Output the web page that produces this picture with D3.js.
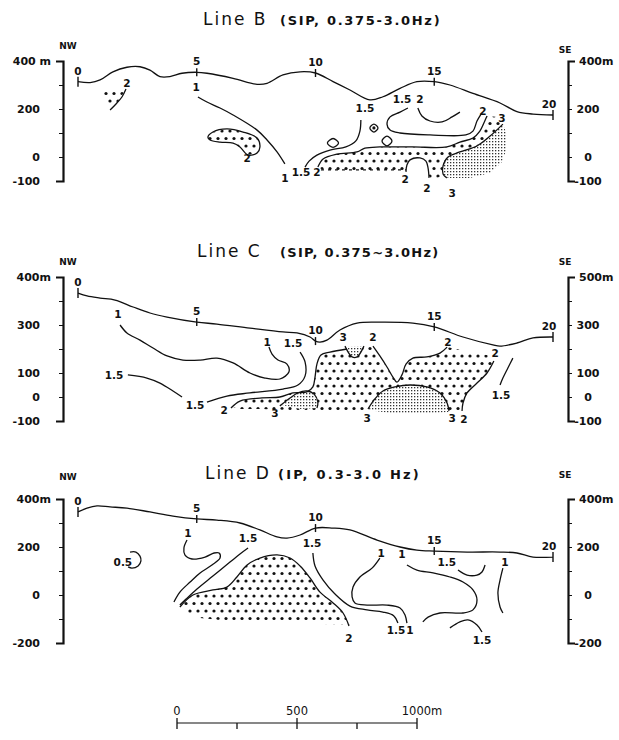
<!DOCTYPE html>
<meta charset="utf-8">
<style>
body { margin: 0; background: #fff; }
svg text { font-family: "DejaVu Sans", sans-serif; fill: #111; }
</style>
<svg width="619" height="740"></svg>
<script src="https://cdn.jsdelivr.net/npm/d3@7/dist/d3.min.js"></script>
<script>
// distance along line in metres (station every 100 m), elevation in metres

var stations = [0, 500, 1000, 1500, 2000];
var stationNames = ["0", "5", "10", "15", "20"];

// ---- Line B ----
var topoB = [[0,314],[51,310],[93,321],[147,355],[206,374],[261,376],[303,362],[345,335],[387,335],[438,349],[500,353],[543,349],[653,328],[754,303],[796,307],[863,342],[935,355],[1000,350],[1074,314],[1145,279],[1229,238],[1284,251],[1356,286],[1427,314],[1500,314],[1566,300],[1663,265],[1777,225],[1848,189],[1916,179],[2000,175]];
var linesB = [
  [[505,250],[543,229],[598,204],[653,175],[754,112],[796,71],[838,21],[871,-29]],
  [[202,283],[185,250],[160,221],[135,196]],
  [[956,-42],[973,-17],[1006,8],[1061,29],[1128,42],[1170,67],[1187,108],[1191,154]],
  [[1389,204],[1356,187],[1314,167],[1301,137],[1314,112],[1356,100],[1482,92],[1633,92],[1663,108],[1680,150],[1697,179]],
  [[1431,204],[1448,171],[1482,150],[1533,146],[1575,167],[1608,187]],
  [[1010,-42],[1032,-8],[1090,12],[1175,21],[1208,37],[1271,42],[1410,42],[1553,42],[1608,62],[1663,79],[1692,108],[1709,142],[1722,171]],
  [[1381,-62],[1385,-33],[1398,-12],[1440,-4],[1465,-17],[1474,-46],[1478,-87]],
  [[1789,137],[1735,87],[1680,46],[1608,21],[1558,0],[1537,-37],[1537,-71],[1553,-87]]
];
var dashedB = [[[1023,-54],[1381,-54]]];
var closedB = [
  [[547,83],[568,104],[627,117],[695,104],[754,79],[766,42],[754,17],[716,8],[682,42],[653,58],[598,62],[556,71]],
  [[1050,58],[1074,77],[1097,58],[1074,40]],
  [[1229,121],[1246,137],[1263,121],[1246,104]],
  [[1280,67],[1301,87],[1322,67],[1301,46]]
];
var pointsB = [[1246,121]];
var dotAreasB = [
  [[109,271],[168,287],[194,271],[168,229],[135,212],[109,237]],
  [[547,83],[568,104],[627,117],[695,104],[754,79],[766,42],[754,17],[716,8],[682,42],[653,58],[598,62],[556,71]],
  [[1010,-42],[1032,-8],[1090,12],[1175,21],[1208,37],[1271,42],[1410,42],[1553,42],[1608,62],[1663,79],[1692,108],[1709,142],[1726,171],[1768,167],[1789,137],[1735,87],[1680,46],[1608,21],[1558,0],[1537,-37],[1533,-79],[1490,-96],[1478,-79],[1474,-46],[1465,-17],[1440,-4],[1398,-12],[1385,-33],[1381,-54],[1032,-54]]
];
var stippleB = [
  [[1789,137],[1735,87],[1680,46],[1608,21],[1558,0],[1537,-37],[1537,-71],[1558,-87],[1650,-87],[1735,-67],[1785,-21],[1806,37],[1802,104]]
];
var labelsB = [["1",497,292],["1",871,-87],["1.5",939,-62],["2",1006,-62],["2",206,308],["2",712,-4],["1.5",1208,204],["1.5",1364,242],["2",1440,242],["2",1705,192],["3",1785,162],["2",1377,-92],["2",1469,-129],["3",1575,-150]];

// ---- Line C ----
var topoC = [[0,433],[38,421],[93,412],[156,404],[232,375],[303,350],[375,333],[500,312],[585,304],[724,287],[863,271],[922,267],[977,250],[1000,233],[1019,229],[1048,237],[1103,279],[1175,308],[1271,312],[1410,308],[1500,292],[1621,250],[1747,217],[1777,212],[1848,225],[1916,246],[2000,250]];
var linesC = [
  [[177,300],[206,267],[261,237],[316,204],[375,171],[442,154],[514,154],[585,162],[653,142],[724,100],[787,79],[850,75],[888,104],[880,137],[842,154],[817,179],[804,208]],
  [[935,187],[956,146],[956,87],[926,50],[863,33],[724,17],[627,4],[543,-21]],
  [[210,92],[290,79],[345,58],[400,25],[438,0]],
  [[644,-46],[682,-17],[775,-4],[850,0],[905,17],[964,21],[989,42],[998,83],[1006,137],[1023,175],[1061,187],[1133,200]],
  [[1242,212],[1271,171],[1301,125],[1326,83],[1343,62],[1364,92],[1381,137],[1410,162],[1469,167],[1524,183],[1554,208]],
  [[1751,150],[1722,100],[1680,58],[1638,17],[1621,-25],[1617,-58]],
  [[850,-37],[893,-4],[926,17],[964,25],[994,12],[1010,-21],[1006,-46]],
  [[1221,-50],[1250,-8],[1284,25],[1335,42],[1398,50],[1469,42],[1524,17],[1554,-25],[1562,-58]],
  [[1124,212],[1154,167],[1175,167],[1204,212]],
  [[1831,162],[1810,121],[1789,79],[1777,50]]
];
var dashedC = [];
var closedC = [];
var pointsC = [];
var dotAreasC = [
  [[653,-42],[695,-12],[779,-4],[850,0],[905,17],[964,21],[989,42],[998,83],[1006,137],[1023,175],[1061,187],[1133,200],[1242,212],[1271,171],[1301,125],[1326,83],[1343,62],[1364,92],[1381,137],[1410,162],[1469,167],[1524,183],[1554,208],[1650,187],[1743,171],[1751,150],[1722,100],[1680,58],[1638,17],[1621,-25],[1617,-62],[1524,-71],[1356,-71],[1187,-67],[1019,-67],[893,-54],[766,-50],[682,-50]]
];
var stippleC = [
  [[859,-33],[893,-4],[926,17],[964,25],[994,12],[1010,-21],[1006,-46],[935,-50]],
  [[1221,-54],[1250,-8],[1284,25],[1335,42],[1398,50],[1469,42],[1524,17],[1554,-25],[1562,-62],[1440,-71],[1314,-67]],
  [[1128,208],[1204,212],[1175,167],[1154,167]]
];
var labelsC = [["1",168,346],["1",796,229],["1.5",905,225],["1.5",152,92],["1.5",493,-33],["2",615,-54],["3",829,-67],["3",1116,250],["2",1242,250],["2",1558,229],["2",1756,183],["1.5",1781,8],["3",1217,-87],["3",1575,-87],["2",1625,-92]];

// ---- Line D ----
var topoD = [[0,346],[38,362],[80,371],[135,367],[206,362],[303,346],[400,329],[500,317],[585,312],[682,300],[766,271],[838,242],[880,237],[935,250],[1000,279],[1074,279],[1145,271],[1259,229],[1356,200],[1427,187],[1500,183],[1638,179],[1777,179],[1848,175],[1916,158],[2000,158]];
var linesD = [
  [[219,179],[244,179],[261,162],[265,142],[253,121],[227,112],[211,117]],
  [[459,229],[446,196],[450,167],[480,150],[535,158],[573,175],[594,175],[598,154],[564,125],[514,92],[472,54],[429,12],[404,-29]],
  [[716,196],[682,171],[640,137],[568,79],[501,25],[455,-17],[429,-42]],
  [[429,-50],[484,0],[568,21],[627,33],[669,75],[712,125],[766,154],[838,167],[893,154],[935,121],[977,71],[1019,12],[1074,-33],[1116,-75],[1141,-129]],
  [[989,175],[998,121],[1032,62],[1082,4],[1145,-46],[1217,-62],[1284,-71],[1330,-87],[1347,-117]],
  [[1271,154],[1238,112],[1187,75],[1158,33],[1154,-8],[1166,-33],[1217,-42],[1301,-42],[1356,-54],[1377,-83],[1385,-117]],
  [[1385,125],[1427,104],[1495,92],[1566,75],[1621,54],[1663,21],[1680,-21],[1663,-62],[1621,-75],[1524,-75],[1474,-92],[1452,-112]],
  [[1600,104],[1638,83],[1680,83],[1701,96],[1714,125]],
  [[1789,112],[1777,62],[1768,8],[1777,-50],[1789,-75]],
  [[1566,-137],[1608,-112],[1642,-104],[1680,-125],[1701,-154]]
];
var dashedD = [];
var closedD = [];
var pointsD = [];
var dotAreasD = [
  [[438,-42],[484,0],[568,21],[627,33],[669,75],[712,125],[766,154],[838,167],[893,154],[935,121],[977,71],[1019,12],[1074,-33],[1116,-75],[1145,-125],[1019,-121],[850,-117],[682,-112],[514,-96],[455,-71]]
];
var stippleD = [];
var labelsD = [["0.5",189,137],["1",463,258],["1.5",716,237],["1.5",985,217],["2",1141,-179],["1",1276,175],["1",1364,171],["1.5",1553,137],["1",1798,137],["1.5",1339,-146],["1",1398,-146],["1.5",1701,-187]];

// axis ticks and labels
var ticksB = [-100,0,100,200,300,400];
var leftLabelsB = [[400,"400 m"],[200,"200"],[0,"0"],[-100,"-100"]];
var rightLabelsB = [[400,"400m"],[200,"200"],[0,"0"],[-100,"-100"]];
var ticksC = [-100,0,100,200,300,400,500];
var leftLabelsC = [[500,"400m"],[300,"300"],[100,"100"],[0,"0"],[-100,"-100"]];
var rightLabelsC = [[500,"500m"],[300,"300"],[100,"100"],[0,"0"],[-100,"-100"]];
var ticksD = [-200,-100,0,100,200,300,400];
var leftLabelsD = [[400,"400m"],[200,"200"],[0,"0"],[-200,"-200"]];
var rightLabelsD = [[400,"400m"],[200,"200"],[0,"0"],[-200,"-200"]];

var barTicks = [0,250,500,750,1000];
var barLabels = [[0,"0"],[500,"500"],[1000,"1000m"]];

var svg = d3.select("svg");

var defs = svg.append("defs");
var pd = defs.append("pattern").attr("id","dots")
    .attr("width",8).attr("height",15).attr("patternUnits","userSpaceOnUse");
pd.append("circle").attr("cx",2).attr("cy",3.5).attr("r",1.6).attr("fill","#111");
pd.append("circle").attr("cx",6).attr("cy",11).attr("r",1.6).attr("fill","#111");
var ps = defs.append("pattern").attr("id","stip")
    .attr("width",3).attr("height",3).attr("patternUnits","userSpaceOnUse");
ps.append("rect").attr("width",1.3).attr("height",1.3).attr("fill","#333");

var x = d3.scaleLinear().domain([0, 2000]).range([78, 553]);

function elevAt(topo, d) {
  var i = d3.bisector(function(p) { return p[0]; }).left(topo, d);
  if (i <= 0) return topo[0][1];
  if (i >= topo.length) return topo[topo.length-1][1];
  var a = topo[i-1], b = topo[i];
  return a[1] + (b[1]-a[1]) * (d - a[0]) / (b[0] - a[0]);
}

function axis(g, y, ticks, labels, side) {
  var lo = d3.min(ticks), hi = d3.max(labels, function(l){ return l[0]; });
  hi = Math.max(hi, d3.max(ticks));
  var ya = d3.scaleLinear().domain([lo, hi]).range([y(lo), y(hi)]);
  var ax = (side == "left" ? d3.axisLeft(ya) : d3.axisRight(ya))
    .tickValues(ticks).tickSizeInner(4).tickSizeOuter(7)
    .tickFormat(function(v) {
      var l = labels.find(function(p){ return p[0] === v; });
      return l ? l[1] : "";
    });
  g.call(ax).attr("font-family", null).attr("font-size", null);
  g.select(".domain").attr("stroke","#111").attr("stroke-width", 2.2);
  g.selectAll(".tick line").attr("stroke","#111").attr("stroke-width", 1);
  g.selectAll(".tick text").attr("font-size", 11).attr("font-weight","bold")
    .each(function() {
      var t = d3.select(this), unit = /m$/.test(t.text());
      if (side == "left") t.attr("x", unit ? -12 : -23).attr("text-anchor","end");
      else t.attr("x", unit ? 11 : 20).attr("text-anchor", unit ? "start" : "middle");
    });
}

function panel(cfg) {
  var y = d3.scaleLinear().domain([0, 100]).range([cfg.zeroY, cfg.zeroY - 24]);
  var g = svg.append("g");
  function pt(curve) {
    return d3.line().x(function(p){ return x(p[0]); }).y(function(p){ return y(p[1]); }).curve(curve);
  }

  // title
  var t = g.append("text").attr("y", cfg.titleY);
  t.append("tspan").attr("x", cfg.titleX).attr("font-size", 17)
    .attr("letter-spacing", 2).text(cfg.title);
  t.append("tspan").attr("x", cfg.subX).attr("font-size", 13).attr("font-weight","bold")
    .attr("letter-spacing", cfg.subSpacing).text(cfg.sub);

  g.append("text").attr("x", 68).attr("y", cfg.nwY).attr("text-anchor","middle")
    .attr("font-size", 9).attr("font-weight","bold").text("NW");
  g.append("text").attr("x", 565).attr("y", cfg.seY).attr("text-anchor","middle")
    .attr("font-size", 9).attr("font-weight","bold").text("SE");

  axis(g.append("g").attr("transform","translate(63,0)"), y, cfg.ticks, cfg.leftLabels, "left");
  axis(g.append("g").attr("transform","translate(568,0)"), y, cfg.ticks, cfg.rightLabels, "right");

  var poly = pt(d3.curveLinearClosed);
  g.append("g").selectAll("path").data(cfg.dotAreas).enter().append("path")
    .attr("d", poly).attr("fill","url(#dots)");
  var st = g.append("g").selectAll("g").data(cfg.stipple).enter().append("g");
  st.append("path").attr("d", poly).attr("fill","#fff");
  st.append("path").attr("d", poly).attr("fill","url(#stip)");

  var lg = g.append("g").attr("fill","none").attr("stroke","#111").attr("stroke-width",1.3);
  lg.selectAll("path.c").data(cfg.lines).enter().append("path").attr("class","c")
    .attr("d", pt(d3.curveCatmullRom.alpha(0.5)));
  lg.selectAll("path.k").data(cfg.closed).enter().append("path").attr("class","k")
    .attr("d", pt(d3.curveCatmullRomClosed.alpha(0.5)));
  lg.selectAll("path.d").data(cfg.dashed).enter().append("path").attr("class","d")
    .attr("stroke-dasharray","3,4").attr("d", pt(d3.curveLinear));

  g.selectAll("circle.pt").data(cfg.points).enter().append("circle").attr("class","pt")
    .attr("cx", function(p){ return x(p[0]); }).attr("cy", function(p){ return y(p[1]); })
    .attr("r", 1.6).attr("fill","#111");

  // topography
  g.append("path").datum(cfg.topo).attr("fill","none").attr("stroke","#111")
    .attr("stroke-width",1.3).attr("d", pt(d3.curveCatmullRom.alpha(0.5)));

  var sg = g.append("g").selectAll("g").data(stations).enter().append("g")
    .attr("transform", function(d){ return "translate(" + x(d) + "," + y(elevAt(cfg.topo, d)) + ")"; });
  sg.append("line").attr("y1", function(d,i){ return (i == 0 || i == 4) ? -5 : -4; })
    .attr("y2", function(d,i){ return (i == 0 || i == 4) ? 5 : 4; })
    .attr("stroke","#111").attr("stroke-width",1.4);
  sg.append("text").attr("y", -7).attr("text-anchor","middle")
    .attr("dx", function(d,i){ return i == 4 ? -4 : 0; })
    .attr("font-size", 10.5).attr("font-weight","bold")
    .text(function(d,i){ return stationNames[i]; });

  g.append("g").selectAll("text").data(cfg.labels).enter().append("text")
    .attr("x", function(l){ return x(l[1]); }).attr("y", function(l){ return y(l[2]); })
    .attr("dy","0.36em").attr("text-anchor","middle")
    .attr("font-size", 10.5).attr("font-weight","bold")
    .text(function(l){ return l[0]; });
}

panel({title:"Line B", sub:"(SIP, 0.375-3.0Hz)", titleX:203, subX:280, titleY:25, subSpacing:1.7,
  zeroY:157, nwY:49, seY:53, ticks:ticksB, leftLabels:leftLabelsB, rightLabels:rightLabelsB,
  topo:topoB, lines:linesB, dashed:dashedB, closed:closedB, points:pointsB,
  dotAreas:dotAreasB, stipple:stippleB, labels:labelsB});
panel({title:"Line C", sub:"(SIP, 0.375~3.0Hz)", titleX:197, subX:280, titleY:257, subSpacing:1.3,
  zeroY:397, nwY:265, seY:265, ticks:ticksC, leftLabels:leftLabelsC, rightLabels:rightLabelsC,
  topo:topoC, lines:linesC, dashed:dashedC, closed:closedC, points:pointsC,
  dotAreas:dotAreasC, stipple:stippleC, labels:labelsC});
panel({title:"Line D", sub:"(IP, 0.3-3.0 Hz)", titleX:205, subX:278, titleY:479, subSpacing:2.2,
  zeroY:595, nwY:480, seY:478, ticks:ticksD, leftLabels:leftLabelsD, rightLabels:rightLabelsD,
  topo:topoD, lines:linesD, dashed:dashedD, closed:closedD, points:pointsD,
  dotAreas:dotAreasD, stipple:stippleD, labels:labelsD});

// scale bar
var bx = d3.scaleLinear().domain([0, 1000]).range([177, 417]);
var bar = svg.append("g").attr("stroke","#111");
bar.append("line").attr("x1", bx(0)).attr("x2", bx(1000)).attr("y1", 723).attr("y2", 723).attr("stroke-width",1.2);
bar.selectAll("line.t").data(barTicks).enter().append("line").attr("class","t")
  .attr("x1", bx).attr("x2", bx)
  .attr("y1", function(d){ return d % 500 == 0 ? 718 : 723; })
  .attr("y2", 729).attr("stroke-width",1.3);
svg.append("g").selectAll("text").data(barLabels).enter().append("text")
  .attr("x", function(l){ return bx(l[0]); }).attr("y", 715)
  .attr("dx", function(l){ return /m$/.test(l[1]) ? 5 : 0; })
  .attr("text-anchor","middle").attr("font-size", 11.5)
  .text(function(l){ return l[1]; });
</script>
